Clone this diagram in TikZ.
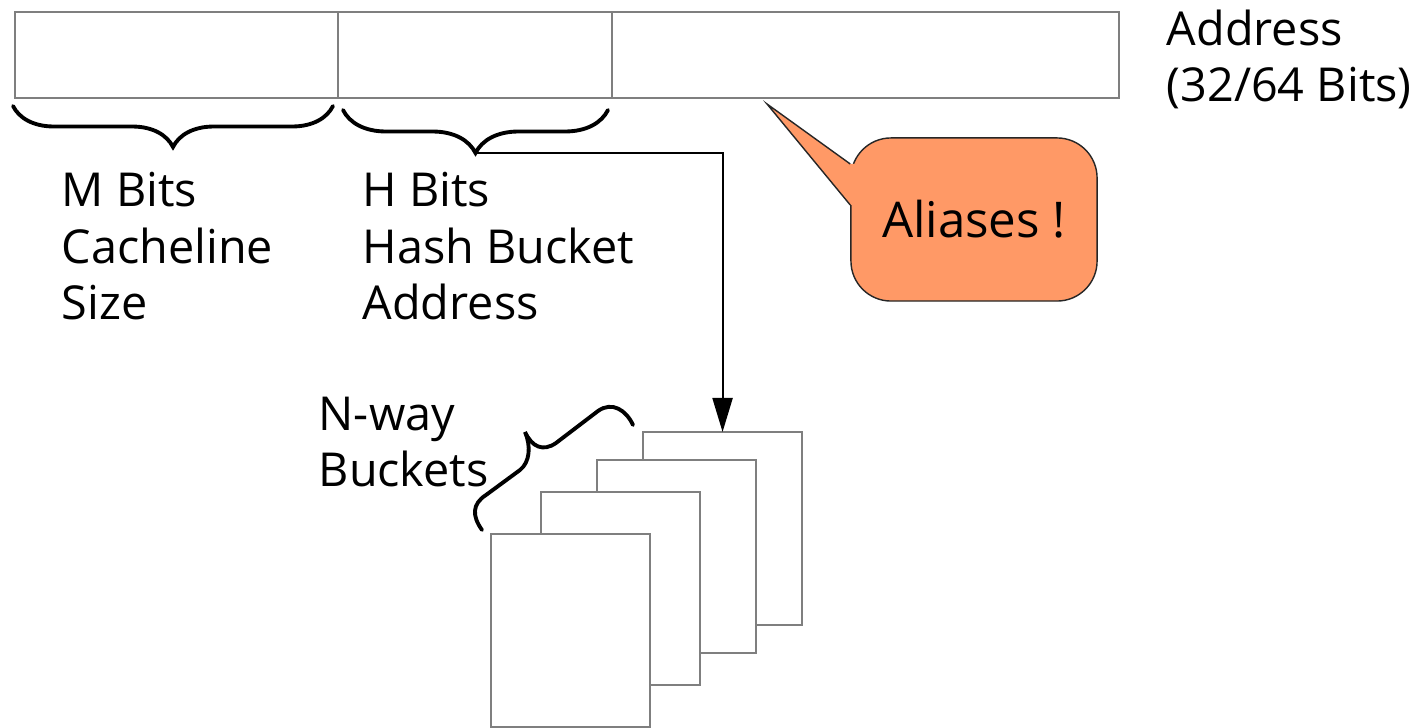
\documentclass[tikz,border=0pt]{standalone}
\usepackage{fontspec}
\setmainfont{Open Sans}
\usetikzlibrary{arrows.meta, positioning, decorations.pathreplacing}
\definecolor{frame}{HTML}{7F7F7F}
\definecolor{salmon}{HTML}{FF9966}
\tikzset{
  field/.style={draw=frame, line width=0.5pt, minimum height=0.86cm, inner sep=0pt, outer sep=0pt},
  bucket/.style={draw=frame, fill=white, line width=0.5pt, minimum width=1.59cm, minimum height=1.93cm, inner sep=0pt, outer sep=0pt, anchor=north west},
  txt/.style={anchor=base west, align=left, inner sep=0pt, font=\fontsize{13.3}{16.2}\selectfont},
  curly/.style={decorate, decoration={brace, amplitude=#1}, line width=1.1pt, line cap=round},
  link/.style={-{Triangle[length=0.34cm, width=0.2cm]}, line width=0.6pt},
  bubble/.style={draw=black!85, fill=salmon, line width=0.4pt, rounded corners=0.4cm, minimum width=2.46cm, minimum height=1.63cm, font=\fontsize{14}{16}\selectfont}
}

\begin{document}
\begin{tikzpicture}[x=0.01cm, y=-0.01cm]
\useasboundingbox (0,0) rectangle (1416,728);
% address split into fields
\node[field, minimum width=3.23cm, anchor=north west] (mfield) at (15,12) {};
\node[field, minimum width=2.74cm, right=0cm of mfield] (hfield) {};
\node[field, minimum width=5.06cm, right=0cm of hfield] (tfield) {};
\node[txt] (addr) at (1166,102) {Address\\(32/64 Bits)};

% braces under the fields
\draw[curly=0.41cm, decoration={mirror}] (13,106) -- (333,106) coordinate[pos=0.5] (mtip);
\draw[curly=0.43cm, decoration={mirror}] (343,110) -- (608,110) coordinate[pos=0.5] (hmid);
\coordinate (htip) at (475,153);
\node[txt] (mtext) at (61,320) {M Bits\\Cacheline\\Size};
\node[txt] (htext) at (362,320) {H Bits\\Hash Bucket\\Address};

% bucket pages, back to front
\node[bucket] (bucket4) at (643,432) {};
\node[bucket] (bucket3) at (597,460) {};
\node[bucket] (bucket2) at (541,492) {};
\node[bucket] (bucket1) at (491,534) {};
\draw[line width=1.1pt, line cap=round] (482,530) .. controls (472,516) and (472,504) .. (486,495)
  -- (520,470) .. controls (530,462) and (531,446) .. (525,432)
  .. controls (532,447) and (543,452) .. (556,443) -- (598,411)
  .. controls (612,401) and (626,410) .. (633,425);
\node[txt] (ways) at (318,487) {N-way\\Buckets};

\draw[link] (htip) -| (bucket4.north);

% callout
\node[bubble] (aliasbox) at (974,219.5) {Aliases !};
\coordinate (aliastip) at (767,104);
\fill[salmon] ([yshift=0.555cm]aliasbox.west) -- (aliastip) -- ([yshift=0.145cm]aliasbox.west)
  -- ([xshift=0.06cm, yshift=0.145cm]aliasbox.west) -- ([xshift=0.06cm, yshift=0.555cm]aliasbox.west) -- cycle;
\draw[black!85, line width=0.4pt] ([yshift=0.555cm]aliasbox.west) -- (aliastip) -- ([yshift=0.145cm]aliasbox.west);
\end{tikzpicture}
\end{document}
